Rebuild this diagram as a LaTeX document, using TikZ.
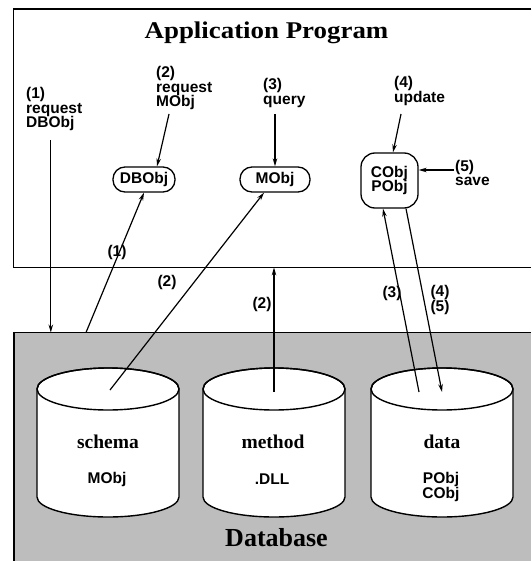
\documentclass[tikz,border=0pt]{standalone}
\usepackage{fontspec}
\setmainfont{Liberation Serif}
\setsansfont{Liberation Sans}
\usetikzlibrary{arrows.meta}
\definecolor{dbgray}{gray}{0.74}
\newcommand{\dbcyl}[1]{%
  \path[fill=white,line width=1.4pt,draw] (#1-71,389) -- (#1-71,497)
    arc[start angle=180,end angle=0,x radius=71,y radius=20]
    -- (#1+71,389) arc[start angle=0,end angle=-180,x radius=71,y radius=21] -- cycle;
  \draw[line width=1.4pt] (#1,389) ellipse[x radius=71,y radius=21];
}
\begin{document}
\begin{tikzpicture}[x=1pt,y=-1pt,
  lbl/.style={font=\sffamily\bfseries\fontsize{15.5}{14.5}\selectfont, align=left, inner sep=0pt},
  obj/.style={draw, line width=1.3pt, rounded corners=12pt, fill=white,
    font=\sffamily\bfseries\fontsize{15.5}{14.5}\selectfont, align=center, inner sep=0pt},
  cyltitle/.style={font=\fontsize{19.5}{20}\selectfont\bfseries, inner sep=0pt},
  cyltext/.style={font=\sffamily\bfseries\fontsize{15.5}{14.5}\selectfont, align=center, inner sep=0pt},
  arr/.style={line width=1.2pt, -{Stealth[length=8pt,width=4.5pt]}},
  frame/.style={line width=1.5pt}]
\useasboundingbox (0,0) rectangle (531,561);

% Database region
\node (db) [anchor=north west, fill=dbgray, inner sep=0pt, minimum width=517pt, minimum height=228.5pt] at (14,332.5) {};
\draw[frame] (db.south west) -- (db.north west) -- (db.north east);

% Application program region
\node (app) [anchor=north west, inner sep=0pt, minimum width=517.5pt, minimum height=258pt] at (13.5,9) {};
\draw[frame] (app.north east) -- (app.north west) -- (app.south west) -- (app.south east);

\node (title) at (266.5,32.5) {\scalebox{1.12}[1]{\fontsize{24}{26}\selectfont\bfseries Application Program}};
\node (dbtitle) at (276.5,538) {\fontsize{26}{28}\selectfont\bfseries Database};

% cylinders
\dbcyl{108}
\dbcyl{274}
\dbcyl{442}
\node (schema) [cyltitle] at (108,442) {schema};
\node (schemaobj) [cyltext] at (107,479) {MObj};
\node (method) [cyltitle] at (273,442) {method};
\node (methodobj) [cyltext] at (272,479) {.DLL};
\node (data) [cyltitle] at (442,442) {data};
\node (dataobj) [cyltext, anchor=north] at (441,472.5) {PObj\\CObj};

\coordinate (schemaIn) at (110,390);
\coordinate (methIn) at (274,392);
\coordinate (dataL) at (419,392);
\coordinate (dataR) at (442,392);

% objects in application
\node (dbobj) [obj, minimum width=62pt, minimum height=25pt] at (144,179.5) {DBObj};
\node (mobj) [obj, minimum width=70pt, minimum height=25pt] at (275,179.5) {MObj};
\node (pobj) [obj, minimum width=57pt, minimum height=55pt, rounded corners=14pt] at (389.5,180.5) {CObj\\PObj};

% labels
\node (lreq1) [lbl, anchor=west] at (26,109) {(1)\\request\\DBObj};
\node (lreq2) [lbl, anchor=west] at (156,88) {(2)\\request\\MObj};
\node (lquery) [lbl, anchor=west] at (263,93) {(3)\\query};
\node (lupdate) [lbl, anchor=west] at (394,91) {(4)\\update};
\node (lsave) [lbl, anchor=west] at (455,173) {(5)\\save};

% connectors
\coordinate (a1s) at (50.8,140.5);
\draw[arr] (a1s) -- (a1s |- db.north);
\coordinate (a2s) at (169,114);
\draw[arr] (a2s) -- ([xshift=13pt]dbobj.north);
\coordinate (a3s) at (275,114);
\draw[arr] (a3s) -- (mobj.north);
\coordinate (a4s) at (401,114);
\draw[arr] (a4s) -- ([xshift=3.5pt]pobj.north);
\coordinate (a5s) at (454,170);
\draw[arr] (a5s) -- (a5s -| pobj.east);

\coordinate (b1s) at (86,332.5);
\draw[arr] (b1s) -- (dbobj.south);
\draw[arr] (schemaIn) -- ([xshift=-11pt]mobj.south);
\draw[arr] (methIn) -- (methIn |- app.south);
\draw[arr] (dataL) -- ([xshift=-6.5pt]pobj.south);
\draw[arr] ([xshift=16.5pt]pobj.south) -- (dataR);

% arrow labels
\node (n1) [lbl] at (117,252) {(1)};
\node (n2a) [lbl] at (167,282) {(2)};
\node (n2b) [lbl] at (262,304) {(2)};
\node (n3) [lbl] at (392,293) {(3)};
\node (n45) [lbl] at (440,300) {(4)\\(5)};
\end{tikzpicture}
\end{document}
